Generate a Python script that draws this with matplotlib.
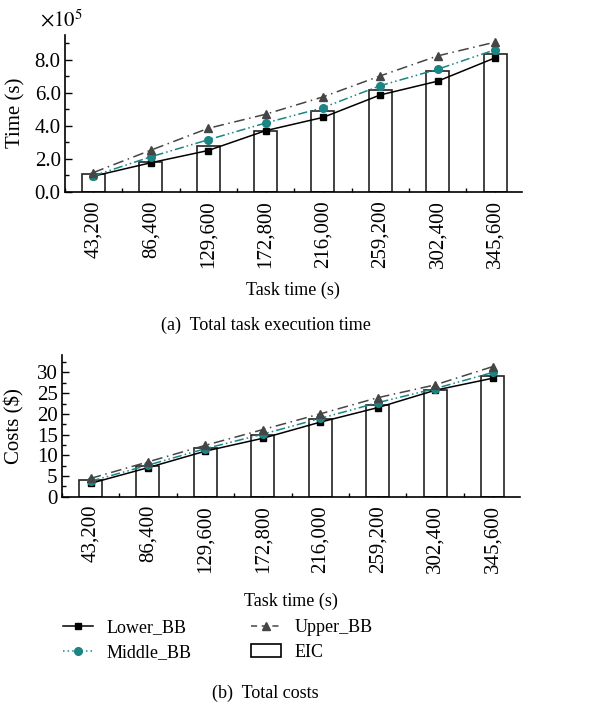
import matplotlib
matplotlib.use("Agg")
import matplotlib.pyplot as plt
from matplotlib.ticker import MultipleLocator
from matplotlib.patches import Patch
from matplotlib.lines import Line2D

plt.rcParams['font.family'] = ['Liberation Serif', 'DejaVu Serif']
plt.rcParams['mathtext.fontset'] = 'stix'

# data
task_labels = ["43,200", "86,400", "129,600", "172,800", "216,000", "259,200", "302,400", "345,600"]

# (a) total task execution time, in units of 1e5 s
time_eic = [1.11, 1.78, 2.79, 3.68, 4.87, 6.14, 7.29, 8.36]
time_lower = [0.95, 1.76, 2.50, 3.70, 4.50, 5.86, 6.69, 8.10]
time_middle = [0.97, 2.12, 3.15, 4.16, 5.09, 6.42, 7.41, 8.59]
time_upper = [1.17, 2.52, 3.84, 4.69, 5.74, 7.01, 8.22, 9.05]

# (b) total costs ($)
cost_eic = [4.0, 7.3, 11.7, 14.8, 18.7, 22.2, 25.7, 29.2]
cost_lower = [3.2, 7.0, 11.0, 14.1, 18.0, 21.5, 25.7, 28.6]
cost_middle = [3.7, 7.6, 11.6, 15.1, 18.9, 22.7, 26.1, 30.0]
cost_upper = [4.4, 8.4, 12.4, 16.2, 20.0, 23.9, 27.0, 31.4]

teal = "#1a8585"
grey = "#454545"
tick_fs = 15
label_fs = 13

fig = plt.figure(figsize=(6.0, 7.08), dpi=100)
ax1 = fig.add_axes([0.108, 0.729, 0.762, 0.222])
ax2 = fig.add_axes([0.103, 0.2985, 0.763, 0.200])

x = list(range(len(task_labels)))


def draw(ax, eic, lower, middle, upper, xlabelpad):
    ax.bar(x, eic, width=0.4, facecolor="white", edgecolor="#222222", linewidth=1.2, zorder=2)
    ax.plot(x, lower, color="black", lw=1.1, marker="s", ms=5, mfc="black", mec="black", zorder=3)
    ax.plot(x, middle, color=teal, lw=1.1, ls=(0, (6, 2, 1, 2, 1, 2)), marker="o", ms=5.5,
            mfc=teal, mec=teal, zorder=4)
    ax.plot(x, upper, color=grey, lw=1.1, ls=(0, (7, 3, 1, 3)), marker="^", ms=6,
            mfc=grey, mec=grey, zorder=5)
    ax.set_xlim(-0.5, 7.47)
    ax.set_xticks(x)
    ax.set_xticklabels(task_labels, rotation=90, fontsize=tick_fs)
    ax.xaxis.set_minor_locator(MultipleLocator(0.5))
    ax.spines["top"].set_visible(False)
    ax.spines["right"].set_visible(False)
    ax.spines["left"].set_linewidth(1.2)
    ax.spines["bottom"].set_linewidth(1.2)
    ax.tick_params(which="both", direction="in", width=1, labelsize=tick_fs)
    ax.tick_params(which="major", length=5)
    ax.tick_params(which="minor", length=3)
    ax.tick_params(axis="x", pad=6)
    ax.tick_params(axis="y", pad=3)
    ax.set_xlabel("Task time (s)", fontsize=label_fs, labelpad=xlabelpad)


draw(ax1, time_eic, time_lower, time_middle, time_upper, 10)
ax1.set_ylim(0, 9.5)
ax1.yaxis.set_major_locator(MultipleLocator(2))
ax1.yaxis.set_minor_locator(MultipleLocator(1))
ax1.set_yticklabels([f"{v:.1f}" for v in ax1.get_yticks()])
ax1.set_ylabel("Time (s)", fontsize=tick_fs)
ax1.yaxis.set_label_coords(-0.087, 0.5)
ax1.text(-0.055, 1.02, r"$\times 10^5$", transform=ax1.transAxes, fontsize=tick_fs,
         ha="left", va="bottom")

draw(ax2, cost_eic, cost_lower, cost_middle, cost_upper, 14)
ax2.set_ylim(0, 34.2)
ax2.yaxis.set_major_locator(MultipleLocator(5))
ax2.yaxis.set_minor_locator(MultipleLocator(2.5))
ax2.set_ylabel("Costs (\\$)", fontsize=tick_fs)
ax2.yaxis.set_label_coords(-0.081, 0.5)

fig.text(0.443, 1 - 325 / 708, "(a)  Total task execution time", ha="center", va="center", fontsize=label_fs)
fig.text(0.443, 1 - 693 / 708, "(b)  Total costs", ha="center", va="center", fontsize=label_fs)

handles = [
    Line2D([], [], color="black", lw=1.1, marker="s", ms=5, mfc="black"),
    Line2D([], [], color=teal, lw=1.1, ls=(0, (1, 2)), marker="o", ms=5.5, mfc=teal, mec=teal),
    Line2D([], [], color=grey, lw=1.1, ls=(0, (4, 3)), marker="^", ms=6, mfc=grey, mec=grey),
    Patch(facecolor="white", edgecolor="black", linewidth=1.2),
]
names = ["Lower_BB", "Middle_BB", "Upper_BB", "EIC"]
fig.legend(handles, names, ncol=2, frameon=False, fontsize=label_fs,
           loc="center left", bbox_to_anchor=(0.078, 1 - 640 / 708),
           columnspacing=3.3, handlelength=1.65, labelspacing=0.45, handletextpad=0.75)

fig.savefig("out.png", dpi=100)
